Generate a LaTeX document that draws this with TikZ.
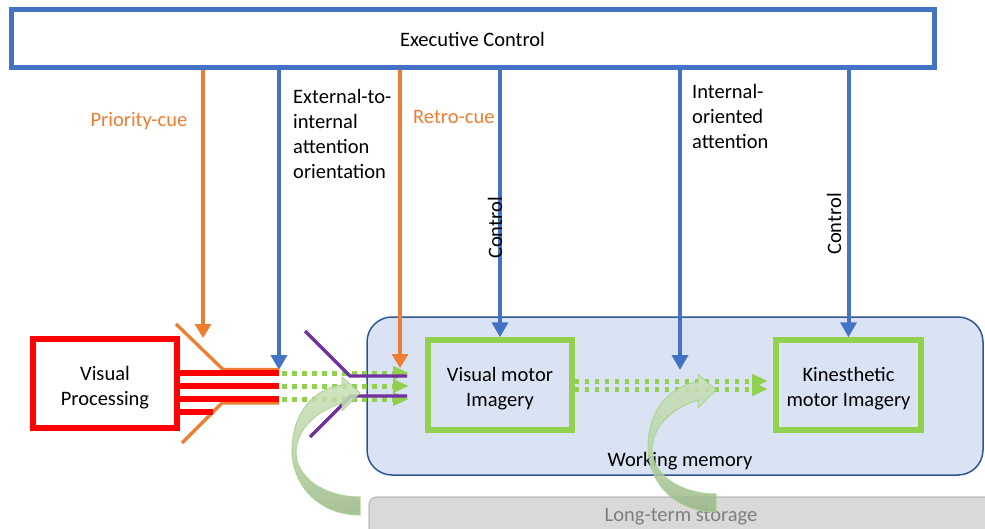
\documentclass[tikz,border=0pt]{standalone}
\usepackage{fontspec}
\setmainfont{Carlito}
\usetikzlibrary{arrows.meta}
\definecolor{ofblue}{HTML}{4472C4}
\definecolor{oforange}{HTML}{ED7D31}
\definecolor{ofgreen}{HTML}{92D050}
\definecolor{ofpurple}{HTML}{7030A0}
\definecolor{wmfill}{HTML}{DAE3F3}
\definecolor{wmborder}{HTML}{2F5597}
\definecolor{ltfill}{HTML}{D9D9D9}
\definecolor{ltborder}{HTML}{BFBFBF}
\definecolor{lttext}{HTML}{7F7F7F}
\definecolor{ribbonlight}{HTML}{C8E2B7}
\definecolor{ribbondark}{HTML}{97B584}
\definecolor{ribbonedge}{HTML}{A9D18E}

\tikzset{
  txt/.style={font=\fontsize{20.5}{25}\selectfont, inner sep=0pt},
  bluearrow/.style={draw=ofblue, line width=4pt, -{Triangle[width=16pt,length=15pt]}},
  orangearrow/.style={draw=oforange, line width=4pt, -{Triangle[width=16pt,length=14pt]}},
  greendots/.style={draw=ofgreen, line width=5pt, dash pattern=on 4.7pt off 5.3pt,
    -{Triangle[width=13pt,length=16pt]}},
  redbar/.style={draw=red, line width=6pt},
  funnel/.style={draw=oforange, line width=3.3pt},
  gate/.style={draw=ofpurple, line width=3.3pt},
  boxframe/.style={line width=5.5pt, minimum width=144pt, minimum height=90pt},
  ribbon/.style={top color=ribbonlight, bottom color=ribbondark,
    middle color=ribbonlight!70!ribbondark, draw=ribbonedge, line width=1pt,
    opacity=0.85},
}

% twisted block arrow rising out of long-term storage
\newcommand{\ribbonarrow}[2]{%
  \begin{scope}[shift={(#1,#2)}]
    \path[ribbon] (360,393) -- (342,411) -- (342,403)
      .. controls (314,412) and (297,430) .. (296,452)
      .. controls (296,478) and (325,497) .. (360,497)
      -- (360,515)
      .. controls (318,515) and (291,484) .. (292,448)
      .. controls (293,412) and (315,388) .. (342,385)
      -- (342,377) -- cycle;
  \end{scope}}

\begin{document}
\begin{tikzpicture}[x=1pt,y=-1pt]
\useasboundingbox (0,0) rectangle (985,529);

% storage areas
\draw[fill=ltfill, draw=ltborder, line width=1.5pt, rounded corners=8pt]
  (369,497) rectangle (1010,560);
\node[txt, text=lttext] (lt) at (681,517) {Long-term storage};
\draw[fill=wmfill, draw=wmborder, line width=1.5pt, rounded corners=25pt]
  (367,317) rectangle (983,475);
\node[txt] (wm) at (680,461) {Working memory};

% executive control
\node[draw=ofblue, line width=5pt, fill=white, minimum width=923pt,
  minimum height=58pt, txt] (exec) at (472.5,39) {Executive Control};

% processing stages: frames, then their captions
\node[boxframe, draw=red, minimum height=89pt] (vp) at (105,383.5) {};
\node[boxframe, draw=ofgreen] (vmi) at (500,385) {};
\node[boxframe, draw=ofgreen, minimum width=145pt] (kmi) at (848.5,385) {};
\node[txt, align=center] (vpt) at (105,388) {Visual\\Processing};
\node[txt, align=center] (vmit) at (500,389) {Visual motor\\Imagery};
\node[txt, align=center] (kmit) at (848.5,389) {Kinesthetic\\motor Imagery};

% targets of the control signals
\coordinate (pc) at (203,338);
\coordinate (ext) at (279,370);
\coordinate (rc) at (400,368);
\coordinate (iat) at (680,370);

\draw[orangearrow] (exec.south -| pc) -- (pc);
\draw[bluearrow] (exec.south -| ext) -- (ext);
\draw[orangearrow] (exec.south -| rc) -- (rc);
\draw[bluearrow] (exec.south -| vmi.north) -- (vmi.north);
\draw[bluearrow] (exec.south -| iat) -- (iat);
\draw[bluearrow] (exec.south -| kmi.north) -- (kmi.north);

% labels
\node[txt, text=oforange] (lpc) at (139,121) {Priority-cue};
\node[txt, align=left, anchor=west] (lext) at (293,133.5)
  {External-to-\\internal\\attention\\orientation};
\node[txt, text=oforange, anchor=west] (lrc) at (413,117) {Retro-cue};
\node[txt, align=left, anchor=west] (lint) at (692,116)
  {Internal-\\oriented\\attention};
\node[txt, rotate=90] (lc1) at (495,228) {Control};
\node[txt, rotate=90] (lc2) at (834,224) {Control};

% orange funnel around the visual output
\coordinate (f1a) at (176,324); \coordinate (f1b) at (223,369.5); \coordinate (f1c) at (279,369.5);
\coordinate (f2a) at (182,443); \coordinate (f2b) at (222,403); \coordinate (f2c) at (279,403);
\draw[funnel] (f1a) -- (f1b) -- (f1c);
\draw[funnel] (f2a) -- (f2b) -- (f2c);

% visual output channels
\coordinate (r1) at (279,373);
\coordinate (r2) at (279,386);
\coordinate (r3) at (279,399);
\coordinate (r4) at (213,412);
\foreach \r in {r1,r2,r3,r4}
  \draw[redbar] (vp.east |- \r) -- (\r);

% transfer into visual motor imagery
\foreach \y [count=\i] in {373,386,399} {
  \coordinate (ga\i) at (282,\y);
  \coordinate (gb\i) at (409,\y);
  \draw[greendots] (ga\i) -- (gb\i);
}

% purple gate
\coordinate (p1a) at (305,331); \coordinate (p1b) at (350,376); \coordinate (p1c) at (407,376);
\coordinate (p2a) at (310,437); \coordinate (p2b) at (351,396); \coordinate (p2c) at (407,396);
\draw[gate] (p1a) -- (p1b) -- (p1c);
\draw[gate] (p2a) -- (p2b) -- (p2c);

% transfer between the imagery stages
\coordinate (m1) at (768,381);
\coordinate (m2) at (768,389);
\draw[greendots] (vmi.east |- m1) -- (m1);
\draw[greendots] (vmi.east |- m2) -- (m2);

% retrieval from long-term storage
\ribbonarrow{0}{0}
\ribbonarrow{356}{-3}

\end{tikzpicture}
\end{document}
